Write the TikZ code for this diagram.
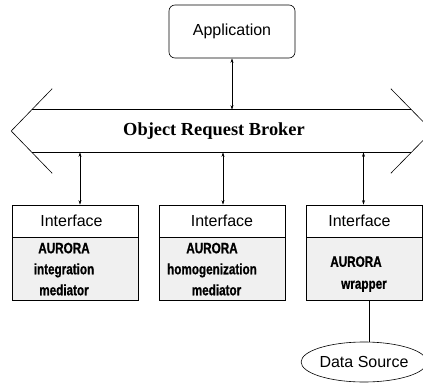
\documentclass[tikz,border=0pt]{standalone}
\usepackage{fontspec}
\usepackage{tikz}
\usetikzlibrary{arrows.meta,positioning,shapes.geometric}

\newfontfamily\helvfont{Liberation Sans}
\newfontfamily\narrowfont[FakeStretch=0.78,FakeBold=0.8]{Liberation Sans}
\newfontfamily\timesfont{Liberation Serif}

\begin{document}
\begin{tikzpicture}[
    x=1pt, y=-1pt,
    line width=0.6pt,
    font=\helvfont\fontsize{16}{19}\selectfont,
    app/.style={
        draw,
        rounded corners=6pt,
        minimum width=126pt,
        minimum height=53pt
    },
    iface/.style={
        draw,
        minimum width=126pt,
        minimum height=32pt,
        inner sep=0pt
    },
    medbox/.style={
        draw,
        fill=black!6,
        minimum width=126pt,
        minimum height=63pt,
        inner sep=0pt
    },
    medtext/.style={
        align=center,
        inner sep=0pt,
        font=\narrowfont\bfseries\fontsize{15}{21}\selectfont
    },
    source/.style={
        ellipse,
        draw,
        minimum width=110pt,
        minimum height=40pt,
        inner sep=0pt
    },
    link/.style={{Stealth[length=4.5pt,width=3pt]}-{Stealth[length=4.5pt,width=3pt]}}
]
    \clip (0,0) rectangle (423,383);

    % broker band: body, then the two open arrow ends
    \node[minimum width=379pt, minimum height=42pt, inner sep=0pt] (orb) at (221.5,131) {};
    \node[font=\timesfont\bfseries\fontsize{18.4}{22}\selectfont] (orbtext) at (214,131) {Object Request Broker};
    \draw (orb.north west) -- (orb.north east);
    \draw (orb.south west) -- (orb.south east);
    \draw ([shift={(20.5pt,21pt)}]orb.north west) -- ([xshift=-20.5pt]orb.west) -- ([shift={(20.5pt,-21pt)}]orb.south west);
    \draw ([shift={(-20.5pt,21pt)}]orb.north east) -- ([xshift=21pt]orb.east) -- ([shift={(-20.5pt,-21pt)}]orb.south east);

    \node[app] (app) at (232,31.5) {Application};

    % interface boxes with their mediators
    \node[iface] (ifA) at (75,221) {\hspace*{-7pt}Interface};
    \node[medbox, below=0pt of ifA] (medA) {};
    \node[medtext] (txtA) at ([xshift=-11pt]medA.center) {AURORA\\integration\\mediator};

    \node[iface] (ifB) at (222,221) {Interface};
    \node[medbox, below=0pt of ifB] (medB) {};
    \node[medtext] (txtB) at ([xshift=-10pt]medB.center) {AURORA\\homogenization\\\hspace*{9pt}mediator};

    \node[iface, minimum width=116pt] (ifC) at (364.5,221) {\hspace*{-10pt}Interface};
    \node[medbox, minimum width=116pt, below=0pt of ifC] (medC) {};
    \node[medtext, font=\narrowfont\bfseries\fontsize{15}{22}\selectfont] (txtC) at ([shift={(-2pt,-5pt)}]medC.center) {\hspace*{-13pt}AURORA\\\hspace*{3pt}wrapper};

    \node[source] (src) at (364,362) {Data Source};

    \draw[link] (app) -- (app.south |- orb.north);
    \draw[link] ([xshift=5pt]ifA.north |- orb.south) -- ([xshift=5pt]ifA.north);
    \draw[link] ([xshift=1pt]ifB.north |- orb.south) -- ([xshift=1pt]ifB.north);
    \draw[link] ([xshift=-1pt]ifC.north |- orb.south) -- ([xshift=-1pt]ifC.north);
    \draw ([xshift=5pt]medC.south) -- ([xshift=5pt]medC.south |- src.north);
\end{tikzpicture}
\end{document}
